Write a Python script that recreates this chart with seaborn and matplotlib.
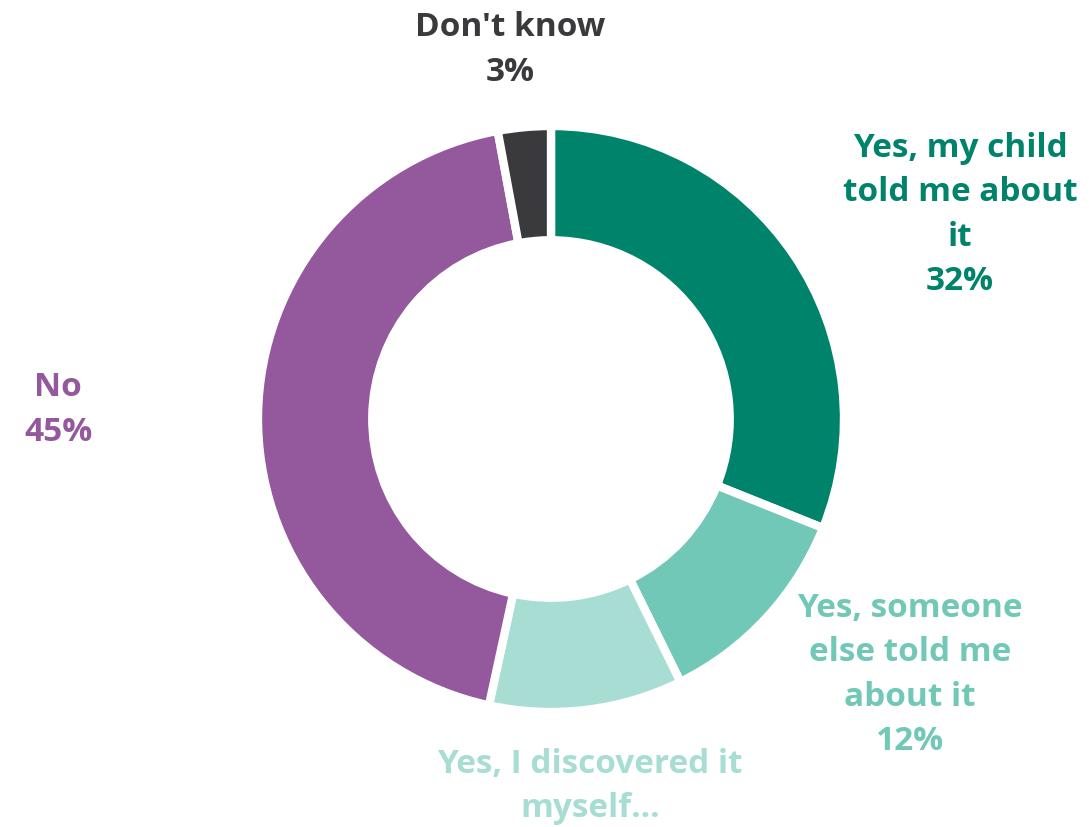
import matplotlib
matplotlib.use("Agg")
import matplotlib.pyplot as plt
import seaborn as sns

# Survey answers, clockwise from the top
categories = [
    "Yes, my child\ntold me about\nit",
    "Yes, someone\nelse told me\nabout it",
    "Yes, I discovered it\nmyself...",
    "No",
    "Don't know",
]
shares = [32, 12, 11, 45, 3]
show_pct = [True, True, False, True, True]
colors = ["#00836B", "#71C8B7", "#A8DDD4", "#93599C", "#3A393B"]

sns.set_theme(style="white")
plt.rcParams["font.family"] = ["Open Sans", "DejaVu Sans"]

W, H = 1089, 828
fig = plt.figure(figsize=(W / 100, H / 100), dpi=100)
ax = fig.add_axes([0, 0, 1, 1])

wedges, _ = ax.pie(
    shares,
    colors=colors,
    startangle=90,
    counterclock=False,
    radius=1.0,
    wedgeprops=dict(width=0.39, edgecolor="white", linewidth=6),
)

# Frame so that the ring sits at the same place on the canvas (pixel scale)
cx, cy, r = 551, 420, 293
ax.set_xlim(-cx / r, (W - cx) / r)
ax.set_ylim(-(H - cy) / r, cy / r)
ax.set_aspect("equal")
ax.axis("off")


def px(x, y):
    return (x - cx) / r, (cy - y) / r


# Label anchors in canvas pixels and vertical alignment
label_pos = [
    (960, 215, "center"),
    (910, 675, "center"),
    (590, 748, "top"),
    (58, 410, "center"),
    (510, 50, "center"),
]

for cat, val, pct, col, (lx, ly, va) in zip(categories, shares, show_pct, colors, label_pos):
    txt = f"{cat}\n{val}%" if pct else cat
    x, y = px(lx, ly)
    ax.text(x, y, txt, ha="center", va=va, color=col, fontsize=24,
            fontweight="bold", linespacing=1.45, multialignment="center")

fig.savefig("out.png", dpi=100, facecolor="white")
